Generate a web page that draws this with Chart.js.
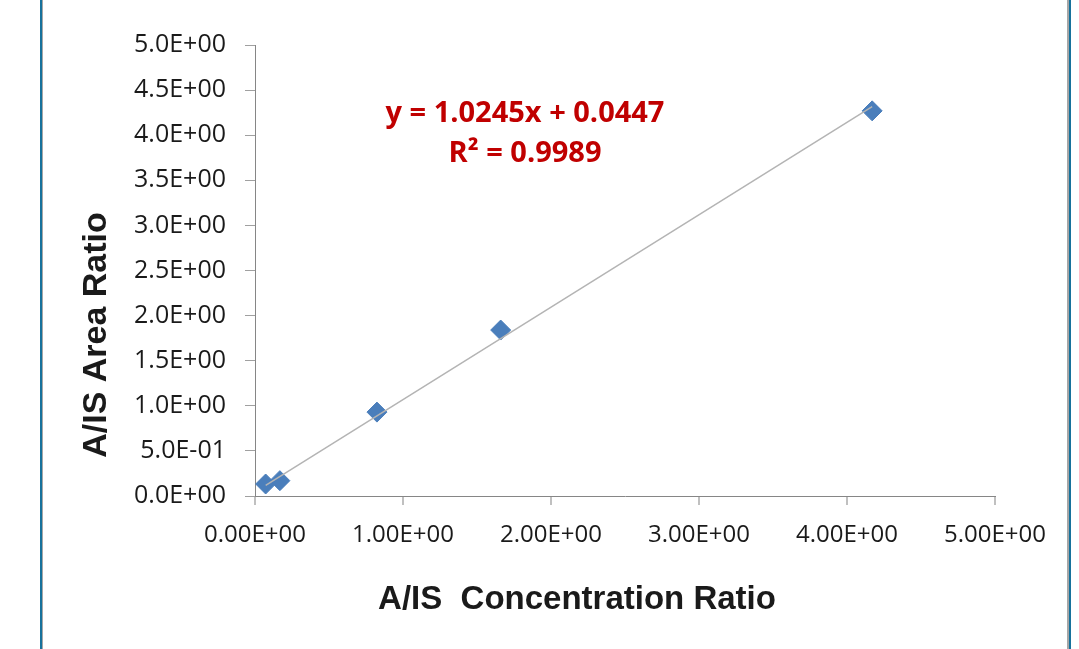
<!DOCTYPE html>
<html lang="en">
<head>
    <meta charset="UTF-8">
    <title>A/IS Calibration</title>
    <style>
        html, body { margin: 0; padding: 0; background: #fff; }
        #wrap { width: 1079px; height: 649px; position: relative; }
    </style>
</head>
<body>
    <div id="wrap">
        <canvas id="myChart" width="1079" height="649"></canvas>
    </div>

    <script src="https://cdn.jsdelivr.net/npm/chart.js@4.4.0/dist/chart.umd.min.js"></script>
    <script>
        // values
        var concRatio = [0.072, 0.168, 0.824, 1.66, 4.17];
        var areaRatio = [0.133, 0.17, 0.93, 1.84, 4.27];
        var yTicks = [0, 0.5, 1, 1.5, 2, 2.5, 3, 3.5, 4, 4.5, 5];
        var xTicks = [0, 1, 2, 3, 4, 5];
        // trendline equation as printed on the chart
        var slope = 1.0245;
        var intercept = 0.0447;
        var eqLines = ['y = 1.0245x + 0.0447', 'R\u00b2 = 0.9989'];
        var xTitle = 'A/IS  Concentration Ratio';
        var yTitle = 'A/IS Area Ratio';

        function sci(v, d) {
            var parts = Number(v).toExponential(d).split('e');
            var e = parts[1];
            return parts[0] + 'E' + e[0] + e.slice(1).padStart(2, '0');
        }

        var points = concRatio.map(function (x, i) { return { x: x, y: areaRatio[i] }; });
        var xMin = Math.min.apply(null, concRatio);
        var xMax = Math.max.apply(null, concRatio);
        var trend = [
            { x: xMin, y: slope * xMin + intercept },
            { x: xMax, y: slope * xMax + intercept }
        ];

        // frame, axis titles and the equation box
        var extras = {
            id: 'extras',
            afterDraw: function (chart) {
                var ctx = chart.ctx;
                ctx.save();
                ctx.fillStyle = '#17729c';
                ctx.fillRect(40, 0, 2, 649);
                ctx.fillRect(1069, 0, 2, 649);
                ctx.fillStyle = '#a6a6a6';
                ctx.fillRect(42, 0, 1, 649);
                ctx.fillRect(1067, 0, 2, 649);

                ctx.textAlign = 'center';
                ctx.textBaseline = 'middle';

                ctx.fillStyle = '#1a1a1a';
                ctx.font = 'bold 33px "Liberation Sans", Arial, sans-serif';
                ctx.fillText(xTitle, 577, 600);
                ctx.save();
                ctx.translate(97, 335);
                ctx.rotate(-Math.PI / 2);
                ctx.font = 'bold 34px "Liberation Sans", Arial, sans-serif';
                ctx.fillText(yTitle, 0, 0);
                ctx.restore();

                ctx.fillStyle = '#c00000';
                ctx.font = 'bold 29px "Open Sans"';
                ctx.fillText(eqLines[0], 525, 114);
                ctx.fillText(eqLines[1], 525, 154);
                ctx.restore();
            }
        };

        Chart.defaults.font.family = '"Open Sans", sans-serif';
        Chart.defaults.color = '#1a1a1a';

        new Chart(document.getElementById('myChart').getContext('2d'), {
            type: 'scatter',
            data: {
                datasets: [
                    {
                        type: 'line',
                        data: trend,
                        borderColor: '#b4b4b4',
                        borderWidth: 1.5,
                        pointRadius: 0,
                        fill: false,
                        order: 0
                    },
                    {
                        data: points,
                        pointStyle: 'rectRot',
                        pointRadius: 10,
                        pointHoverRadius: 10,
                        backgroundColor: '#4a7ebb',
                        borderColor: '#4a7ebb',
                        borderWidth: 1,
                        order: 1
                    }
                ]
            },
            options: {
                responsive: false,
                animation: false,
                layout: { padding: { left: 0, right: 84, top: 45, bottom: 0 } },
                plugins: { legend: { display: false }, tooltip: { enabled: false } },
                scales: {
                    x: {
                        type: 'linear',
                        min: 0,
                        max: 5,
                        afterBuildTicks: function (s) { s.ticks = xTicks.map(function (v) { return { value: v }; }); },
                        afterFit: function (s) { s.height = 649 - 496; },
                        border: { color: '#868686', width: 1 },
                        grid: { drawOnChartArea: false, tickLength: 9, color: '#c0c0c0', lineWidth: 2 },
                        ticks: {
                            font: { size: 24 },
                            padding: 16,
                            maxRotation: 0,
                            callback: function (v) { return sci(v, 2); }
                        }
                    },
                    y: {
                        type: 'linear',
                        min: 0,
                        max: 5,
                        afterBuildTicks: function (s) { s.ticks = yTicks.map(function (v) { return { value: v }; }); },
                        afterFit: function (s) { s.width = 255; },
                        border: { color: '#868686', width: 1 },
                        grid: { drawOnChartArea: false, tickLength: 10, color: '#a0a0a0' },
                        ticks: {
                            font: { size: 25 },
                            padding: 19,
                            callback: function (v) { return sci(v, 1); }
                        }
                    }
                }
            },
            plugins: [extras]
        });
    </script>
</body>
</html>
